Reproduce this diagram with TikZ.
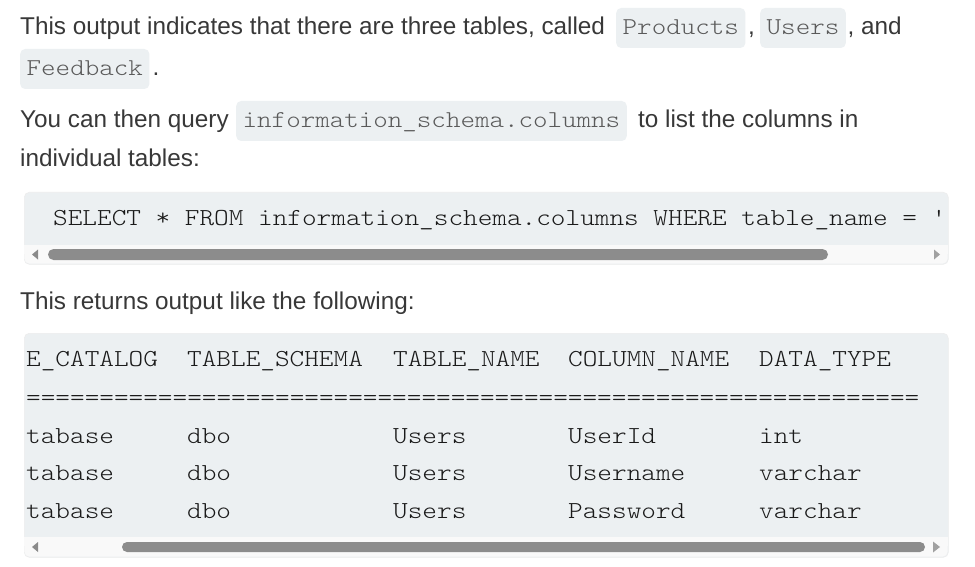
\documentclass[tikz,border=0pt]{standalone}
\usepackage{fontspec}
\newfontfamily\bodyf{Liberation Sans}
\newfontfamily\monof[FakeStretch=1.143]{lmmonolt10-regular.otf}
\definecolor{bodytext}{HTML}{383838}
\definecolor{icodetext}{HTML}{5A5A5A}
\definecolor{codetext}{HTML}{1A1A1A}
\definecolor{codebg}{HTML}{ECF0F2}
\definecolor{stripbg}{HTML}{F9F9F9}
\definecolor{thumbc}{HTML}{8C8C8C}
\definecolor{arrowc}{HTML}{8A8A8A}
\definecolor{edgec}{HTML}{EDEDED}
\tikzset{
  body/.style={anchor=base west, inner sep=0pt, text=bodytext, font=\bodyf\fontsize{24.3}{28}\selectfont},
  icode/.style={anchor=base west, fill=codebg, rounded corners=5pt, inner xsep=6.5pt, inner ysep=0pt,
    text height=27pt, text depth=13pt, text=icodetext, font=\monof\fontsize{24.2}{28}\selectfont},
  mono/.style={anchor=base west, inner sep=0pt, text=codetext, font=\monof\fontsize{24.4}{28}\selectfont},
  block/.style={anchor=north west, fill=codebg, draw=edgec, line width=0.6pt, rounded corners=5pt, inner sep=0pt},
}
\begin{document}
\begin{tikzpicture}[x=1pt,y=-1pt]
\useasboundingbox (0,0) rectangle (975,567);
\fill[white] (0,0) rectangle (975,567);

% paragraph 1
\node[body] (t1) at (20,35) {This output indicates that there are three tables, called};
\node[icode] (c1) at (616,35) {Products};
\node[body] (t2) at (748,35) {,};
\node[icode] (c2) at (760,35) {Users};
\node[body] (t3) at (847.5,35) {, and};
\node[icode] (c3) at (20,76) {Feedback};
\node[body] (t4) at (152.5,76) {.};

% paragraph 2
\node[body] (t5) at (20,128) {You can then query};
\node[icode] (c4) at (236,128) {information\_schema.columns};
\node[body] (t6) at (638,128) {to list the columns in};
\node[body] (t7) at (20,167) {individual tables:};

% code block 1
\node[block, minimum width=924pt, minimum height=72pt] (blk1) at (24,192) {};
\fill[stripbg, rounded corners=5pt] (24.4,245) rectangle (947.6,263.6);
\fill[stripbg] (24.4,245) rectangle (947.6,254);
\fill[thumbc, rounded corners=5.5pt] (48,249) rectangle (828,260);
\fill[arrowc] (38,249.5) -- (38,259.5) -- (32,254.5) -- cycle;
\fill[arrowc!80] (934,249.5) -- (934,259.5) -- (940,254.5) -- cycle;
\node[mono] (sql) at (53,225) {SELECT * FROM information\_schema.columns WHERE table\_name = '};

% paragraph 3
\node[body] (t8) at (20,309) {This returns output like the following:};

% code block 2
\node[block, minimum width=924pt, minimum height=224pt] (blk2) at (24,333) {};
\fill[stripbg, rounded corners=5pt] (24.4,537) rectangle (947.6,556.6);
\fill[stripbg] (24.4,537) rectangle (947.6,546);
\fill[thumbc, rounded corners=5pt] (122,542) rectangle (925,552);
\fill[arrowc] (38,542) -- (38,552) -- (32,547) -- cycle;
\fill[arrowc!80] (933,541.5) -- (933,552.5) -- (940,547) -- cycle;

% header
\node[mono] (h1) at (26,366) {E\_CATALOG};
\node[mono] (h2) at (187,366) {TABLE\_SCHEMA};
\node[mono] (h3) at (393,366) {TABLE\_NAME};
\node[mono] (h4) at (568,366) {COLUMN\_NAME};
\node[mono] (h5) at (759,366) {DATA\_TYPE};
\node[mono] (sep) at (26,405) {=============================================================};
% rows
\node[mono] (r1a) at (26,443) {tabase};
\node[mono] (r1b) at (187,443) {dbo};
\node[mono] (r1c) at (393,443) {Users};
\node[mono] (r1d) at (568,443) {UserId};
\node[mono] (r1e) at (759,443) {int};
\node[mono] (r2a) at (26,480.5) {tabase};
\node[mono] (r2b) at (187,480.5) {dbo};
\node[mono] (r2c) at (393,480.5) {Users};
\node[mono] (r2d) at (568,480.5) {Username};
\node[mono] (r2e) at (759,480.5) {varchar};
\node[mono] (r3a) at (26,518) {tabase};
\node[mono] (r3b) at (187,518) {dbo};
\node[mono] (r3c) at (393,518) {Users};
\node[mono] (r3d) at (568,518) {Password};
\node[mono] (r3e) at (759,518) {varchar};
\end{tikzpicture}
\end{document}
